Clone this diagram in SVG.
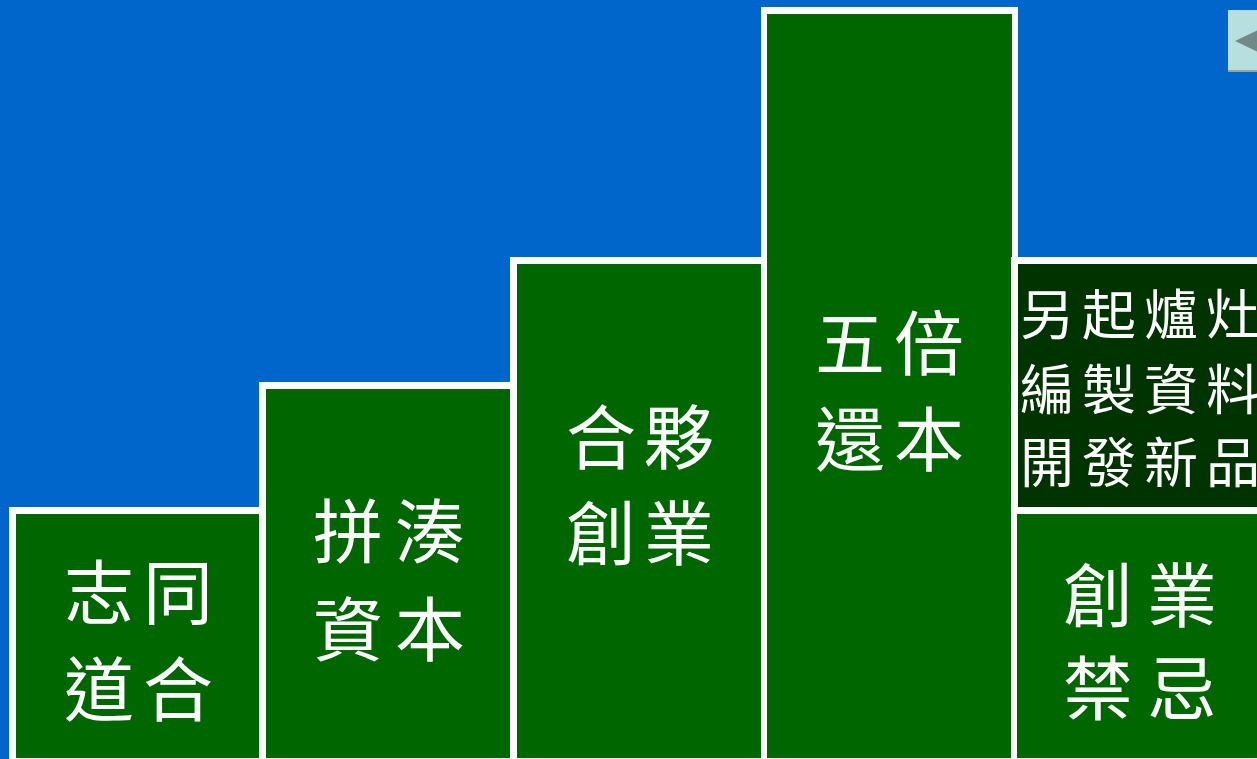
<svg xmlns="http://www.w3.org/2000/svg" width="1257" height="759" viewBox="0 0 1257 759">
<style>
.frame{fill:#FFFFFF}
.g{fill:#006600}
.dg{fill:#003300}
.t{font-family:"Noto Sans CJK TC","Noto Sans CJK SC",sans-serif;fill:#FFFFFF;text-anchor:middle}
.big{font-size:70px}
.small{font-size:54px}
</style>
<rect x="0" y="0" width="1257" height="759" fill="#0066CC"/>
<g id="nav">
<rect x="1228" y="10" width="40" height="62" fill="#B8DFE0"/>
<rect x="1228" y="70" width="40" height="2" fill="#8AA8AA"/>
<polygon points="1235,41 1262,28 1262,54" fill="#738888"/>
</g>
<g id="box1">
<rect class="frame" x="9" y="507" width="258" height="260"/>
<rect class="g" x="16" y="514" width="243" height="244"/>
<text class="t big" x="99 178" y="619">志同</text>
<text class="t big" x="99 178" y="716">道合</text>
</g>
<g id="box2">
<rect class="frame" x="259" y="382" width="258" height="385"/>
<rect class="g" x="266" y="389" width="244" height="369"/>
<text class="t big" x="348 430" y="558">拼湊</text>
<text class="t big" x="348 430" y="656">資本</text>
</g>
<g id="box3">
<rect class="frame" x="510" y="257" width="258" height="510"/>
<rect class="g" x="517" y="264" width="244" height="494"/>
<text class="t big" x="601 679" y="464">合夥</text>
<text class="t big" x="601 679" y="560">創業</text>
</g>
<g id="box4">
<rect class="frame" x="761" y="7" width="257" height="760"/>
<rect class="g" x="767" y="14" width="245" height="744"/>
<text class="t big" x="850 929" y="370">五倍</text>
<text class="t big" x="850 929" y="466">還本</text>
</g>
<g id="box5">
<rect class="frame" x="1011" y="257" width="260" height="260"/>
<rect class="dg" x="1018" y="264" width="250" height="243"/>
<text class="t small" x="1047 1109 1171 1233" y="335">另起爐灶</text>
<text class="t small" x="1047 1109 1171 1233" y="410">編製資料</text>
<text class="t small" x="1047 1109 1171 1233" y="483">開發新品</text>
</g>
<g id="box6">
<rect class="frame" x="1011" y="507" width="260" height="260"/>
<rect class="g" x="1017" y="514" width="250" height="244"/>
<text class="t big" x="1098 1182" y="622">創業</text>
<text class="t big" x="1098 1182" y="715">禁忌</text>
</g>
<g id="connectors"/>
</svg>
